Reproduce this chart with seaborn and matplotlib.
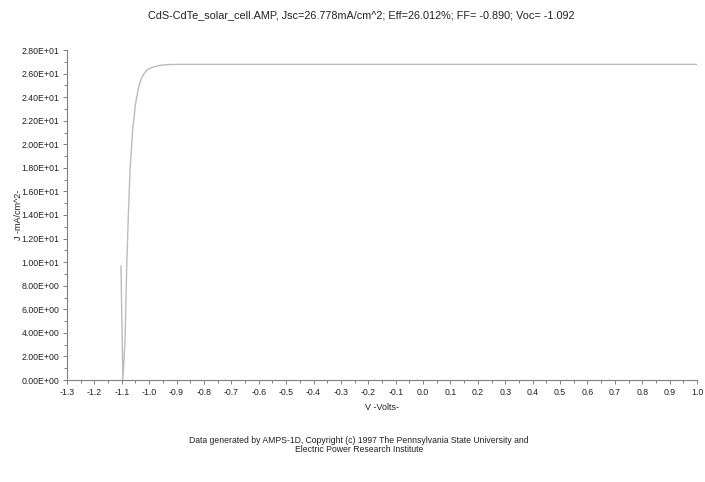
import matplotlib
matplotlib.use("Agg")
import matplotlib.pyplot as plt
import seaborn as sns
import pandas as pd
from matplotlib.ticker import MultipleLocator, FuncFormatter

sns.set_style("white")
plt.rcParams['font.family'] = ['Liberation Sans', 'DejaVu Sans']

voltage = [-1.103, -1.096, -1.088, -1.082, -1.076, -1.070, -1.060, -1.050, -1.040,
           -1.030, -1.020, -1.010, -1.000, -0.980, -0.960, -0.940, -0.920, -0.900,
           -0.800, -0.700, -0.600, -0.500, -0.400, -0.300, -0.200, -0.100, 0.000,
           0.100, 0.200, 0.300, 0.400, 0.500, 0.600, 0.700, 0.800, 0.900, 1.000]
current = [9.7, 0.0, 3.4, 9.6, 14.0, 17.8, 21.3, 23.4, 24.7,
           25.5, 25.95, 26.25, 26.42, 26.6, 26.7, 26.75, 26.77, 26.778,
           26.778, 26.778, 26.778, 26.778, 26.778, 26.778, 26.778, 26.778, 26.778,
           26.778, 26.778, 26.778, 26.778, 26.778, 26.778, 26.778, 26.778, 26.778, 26.778]

title = "CdS-CdTe_solar_cell.AMP, Jsc=26.778mA/cm^2; Eff=26.012%; FF= -0.890; Voc= -1.092"
footer = ("Data generated by AMPS-1D, Copyright (c) 1997 The Pennsylvania State University and\n"
          "Electric Power Research Institute")

df = pd.DataFrame({"V": voltage, "J": current})

fig = plt.figure(figsize=(7.05, 4.82), dpi=100)
ax = fig.add_axes([67/705, 1-380/482, 630/705, 330/482])
sns.lineplot(data=df, x="V", y="J", sort=False, estimator=None, ax=ax,
             color="#bcbcbc", linewidth=1.0)

ax.set_xlim(-1.3, 1.0)
ax.set_ylim(0, 28)
ax.xaxis.set_major_locator(MultipleLocator(0.1))
ax.xaxis.set_minor_locator(MultipleLocator(0.05))
ax.yaxis.set_major_locator(MultipleLocator(2))
ax.yaxis.set_minor_locator(MultipleLocator(1))
ax.xaxis.set_major_formatter(FuncFormatter(lambda v, p: f"{v:.1f}" if abs(v) > 1e-9 else "0.0"))
ax.yaxis.set_major_formatter(FuncFormatter(lambda v, p: f"{v:.2E}"))

for s in ["top", "right"]:
    ax.spines[s].set_visible(False)
for s in ["left", "bottom"]:
    ax.spines[s].set_color("#808080")
    ax.spines[s].set_linewidth(0.8)
ax.tick_params(which="both", direction="out", color="#808080", width=0.7,
               labelsize=6.3, labelcolor="#222222", left=True, bottom=True)
ax.tick_params(which="major", length=3, pad=2.5)
ax.tick_params(which="minor", length=2)

ax.set_xlabel("V -Volts-", fontsize=6.5, color="#222222")
ax.set_ylabel("J -mA/cm^2-", fontsize=6.5, color="#222222")
ax.xaxis.set_label_coords(0.5, (380-403)/330)
ax.yaxis.set_label_coords((23-67)/630, 0.5)

fig.text(361/705, 1-15/482, title, ha="center", va="center", fontsize=7.8, color="#222222")
fig.text(359/705, 1-445/482, footer, ha="center", va="center", fontsize=6.2,
         color="#222222", linespacing=1.1)

fig.savefig("out.png", dpi=100)
